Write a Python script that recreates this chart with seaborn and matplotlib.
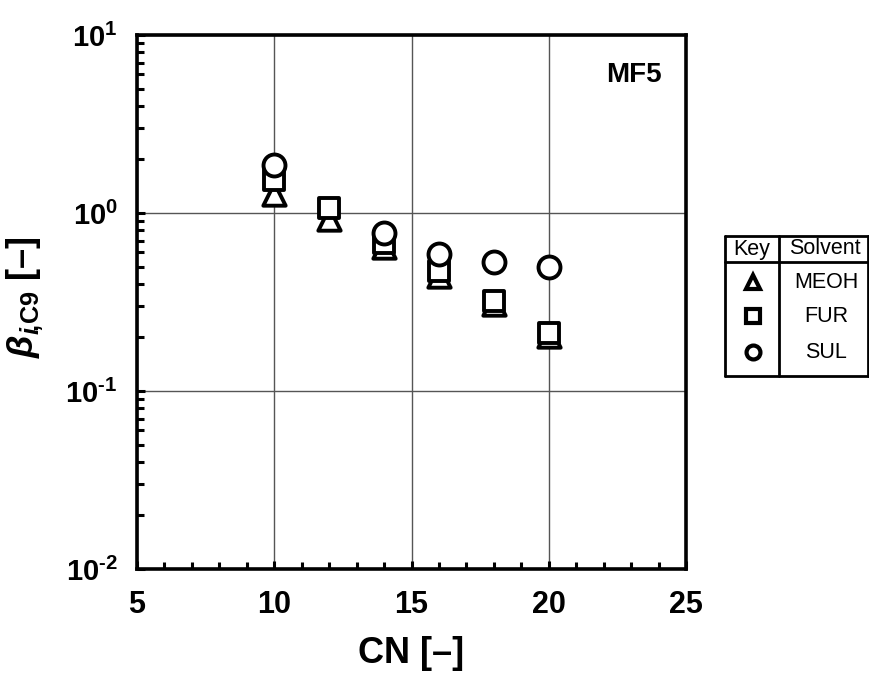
import numpy as np
import pandas as pd
import matplotlib
matplotlib.use('Agg')
import matplotlib.pyplot as plt
from matplotlib.ticker import LogLocator, NullFormatter
import seaborn as sns

# data
cn = [10, 12, 14, 16, 18, 20]
meoh = [1.28, 0.93, 0.64, 0.44, 0.31, 0.205]
fur = [1.54, 1.06, 0.675, 0.47, 0.319, 0.211]
sul = [1.86, np.nan, 0.77, 0.59, 0.53, 0.50]
solvents = ['MEOH', 'FUR', 'SUL']
markers = {'MEOH': '^', 'FUR': 's', 'SUL': 'o'}
sizes = {'MEOH': 260, 'FUR': 200, 'SUL': 250}
xticks = [5, 10, 15, 20, 25]
yticks = [1e-2, 1e-1, 1e0, 1e1]
ytick_labels = [r'$\mathbf{10^{‐2}}$', r'$\mathbf{10^{‐1}}$', r'$\mathbf{10^{0}}$', r'$\mathbf{10^{1}}$']

df = pd.DataFrame({
    'CN': cn * 3,
    'beta': meoh + fur + sul,
    'Solvent': ['MEOH'] * 6 + ['FUR'] * 6 + ['SUL'] * 6,
}).dropna()

sns.set_style('white')
plt.rcParams['font.family'] = ['Liberation Sans', 'DejaVu Sans']
plt.rcParams['text.color'] = 'black'
plt.rcParams['axes.labelcolor'] = 'black'
plt.rcParams['xtick.color'] = 'black'
plt.rcParams['ytick.color'] = 'black'
plt.rcParams['mathtext.fontset'] = 'custom'
plt.rcParams['mathtext.rm'] = 'Liberation Sans:bold'
plt.rcParams['mathtext.bf'] = 'Liberation Sans:bold'
plt.rcParams['mathtext.it'] = 'Liberation Sans:italic:bold'

fig = plt.figure(figsize=(8.69, 6.78), dpi=100)
ax = fig.add_axes([137 / 869, 1 - 569 / 678, (686 - 137) / 869, (569 - 35) / 678])

for s in solvents:
    sub = df[df['Solvent'] == s]
    sns.scatterplot(data=sub, x='CN', y='beta', marker=markers[s], s=sizes[s],
                    facecolor='white', edgecolor='black', linewidth=2.8,
                    ax=ax, zorder=3, legend=False)

ax.set_yscale('log')
ax.set_xlim(5, 25)
ax.set_ylim(1e-2, 1e1)
ax.set_xticks(xticks)
ax.set_xticklabels([str(t) for t in xticks], fontsize=22, fontweight='bold')
ax.set_yticks(yticks)
ax.set_yticklabels(ytick_labels, fontsize=21)
ax.set_xticks(np.arange(5, 26, 1), minor=True)
ax.yaxis.set_minor_locator(LogLocator(base=10, subs=np.arange(2, 10)))
ax.yaxis.set_minor_formatter(NullFormatter())
ax.tick_params(axis='both', which='both', direction='in', bottom=True, left=True,
               top=False, right=False, width=2.2, color='black')
ax.tick_params(axis='x', which='major', length=6, pad=15)
ax.tick_params(axis='y', which='major', length=6, pad=14)
ax.tick_params(axis='both', which='minor', length=5)
ax.grid(True, which='major', color='#555555', linewidth=1)
ax.grid(False, which='minor')
for sp in ax.spines.values():
    sp.set_linewidth(2.6)
    sp.set_color('black')

ax.set_xlabel('CN [–]', fontsize=26, fontweight='bold')
ax.xaxis.set_label_coords(0.5, -0.125)
ax.set_ylabel(r'$\beta_{i\!,\!\mathrm{C9}}$ [–]', fontsize=26, fontweight='bold')
ax.yaxis.set_label_coords(-0.168, 0.51)
ax.text(0.955, 0.925, 'MF5', transform=ax.transAxes, ha='right', va='center',
        fontsize=20, fontweight='bold')

# key table on the right
lg = fig.add_axes([0, 0, 1, 1])
lg.set_xlim(0, 869)
lg.set_ylim(678, 0)
lg.axis('off')
lw = 2
lg.plot([725, 869], [236, 236], color='black', lw=lw)
lg.plot([725, 869], [262, 262], color='black', lw=lw)
lg.plot([725, 869], [376, 376], color='black', lw=lw)
lg.plot([725, 725], [236, 376], color='black', lw=lw)
lg.plot([779, 779], [236, 376], color='black', lw=lw)
lg.plot([868, 868], [236, 376], color='black', lw=lw)
lg.text(752, 249, 'Key', ha='center', va='center', fontsize=15.5)
lg.text(825, 249, 'Solvent', ha='center', va='center', fontsize=15.5)
row_y = [282, 316, 352]
for s, y in zip(solvents, row_y):
    lg.plot([753], [y], marker=markers[s], markersize=10, mfc='white', mec='black', mew=3)
    lg.text(826, y, s, ha='center', va='center', fontsize=15.5)

fig.savefig('out.png', dpi=100)
